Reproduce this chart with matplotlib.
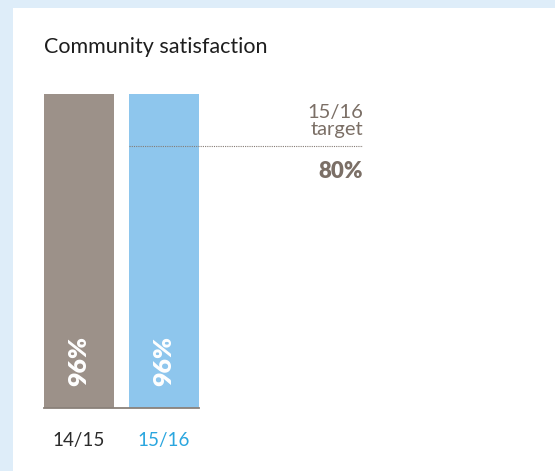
import matplotlib.pyplot as plt
from matplotlib.patches import Rectangle

plt.rcParams['font.family'] = ['Lato', 'DejaVu Sans']

years = ['14/15', '15/16']
satisfaction = [96, 96]
target_year = '15/16'
target = 80

bar_colors = ['#9c9189', '#8ec6ed']
label_colors = ['#2b2b2b', '#2aa6df']
note_color = '#7b6f66'

W, H = 555, 471
fig = plt.figure(figsize=(W / 100, H / 100), dpi=100)
fig.patch.set_facecolor('#deedf9')
# white card over the light blue frame
fig.patches.append(Rectangle((13 / W, 0), 1 - 13 / W, (H - 8) / H,
                             transform=fig.transFigure, facecolor='white',
                             edgecolor='none', zorder=-5))

ax = fig.add_axes([44 / W, (H - 408) / H, 319 / W, 314 / H])
ax.set_facecolor('none')

width = 70 / 85
x = list(range(len(years)))
ax.bar(x, satisfaction, width=width, color=bar_colors, zorder=2)
ax.set_xlim(-width / 2, (363 - 79) / 85)
ax.set_ylim(0, max(satisfaction))

for i, v in enumerate(satisfaction):
    ax.text(i, 14.5, f'{v}%', rotation=90, ha='center', va='center',
            color='white', fontsize=18, fontweight='heavy', zorder=3)
    ax.text(i, -9.9, years[i], ha='center', va='center',
            color=label_colors[i], fontsize=13.5, clip_on=False)

# baseline under the bars
ax.plot([-width / 2, 1 + width / 2], [0, 0], color='#8a817a', lw=1.3,
        zorder=3, clip_on=False)

# target line, drawn over the bar
x_right = ax.get_xlim()[1]
ax.plot([1 - width / 2, x_right], [target, target], color='#857c75',
        lw=0.8, linestyle=(0, (1, 1)), zorder=4)
ax.text(x_right, target + 7.6, f'{target_year}\ntarget', ha='right',
        va='center', color=note_color, fontsize=14.5, linespacing=1.0)
ax.text(x_right, target - 7.8, f'{target}%', ha='right', va='center',
        color=note_color, fontsize=16, fontweight='heavy')

ax.axis('off')

fig.text(44 / W, 1 - 47 / H, 'Community satisfaction', ha='left',
         va='center', fontsize=15.5, color='#1e1e1e')

fig.savefig('out.png', dpi=100, facecolor=fig.get_facecolor())
